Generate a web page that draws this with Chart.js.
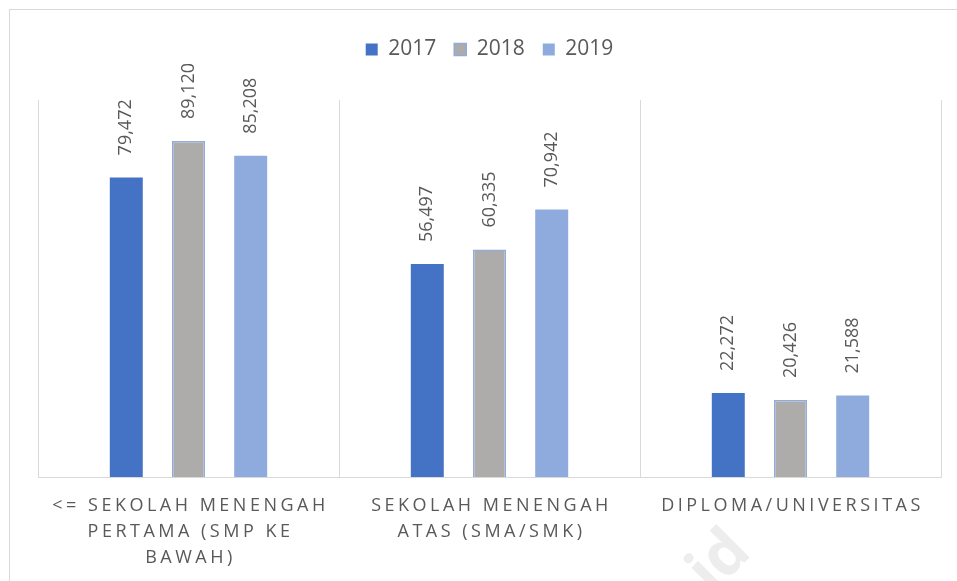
<!DOCTYPE html>
<html>
<head>
<meta charset="utf-8">
<script src="https://cdn.jsdelivr.net/npm/chart.js@4.4.1/dist/chart.umd.min.js"></script>
<style>
  html, body { margin: 0; padding: 0; background: #fff; }
  canvas { display: block; }
</style>
</head>
<body>
<canvas id="myChart" width="957" height="581"></canvas>
<script>
var categories = [
    ['<= SEKOLAH MENENGAH', 'PERTAMA (SMP KE', 'BAWAH)'],
    ['SEKOLAH MENENGAH', 'ATAS (SMA/SMK)'],
    ['DIPLOMA/UNIVERSITAS']
];
var years = ['2017', '2018', '2019'];
var values2017 = [79472, 56497, 22272];
var values2018 = [89120, 60335, 20426];
var values2019 = [85208, 70942, 21588];

var textColor = '#595959';
var lineColor = '#d9d9d9';

// frame, watermark, rotated value labels and spaced category labels
var decor = {
    id: 'decor',
    beforeInit: function (chart) {
        var fit = chart.legend.fit;
        chart.legend.fit = function () {
            fit.bind(chart.legend)();
            this.height += 30;
        };
    },
    beforeDraw: function (chart) {
        var c = chart.ctx;
        c.save();
        c.fillStyle = '#fff';
        c.fillRect(0, 0, chart.width, chart.height);
        c.strokeStyle = lineColor;
        c.lineWidth = 1;
        c.strokeRect(9.5, 9.5, chart.width, chart.height);
        c.restore();
    },
    afterDatasetsDraw: function (chart) {
        var c = chart.ctx;
        c.save();
        c.font = '18px "Open Sans"';
        c.fillStyle = textColor;
        c.textAlign = 'left';
        c.textBaseline = 'middle';
        chart.data.datasets.forEach(function (ds, i) {
            chart.getDatasetMeta(i).data.forEach(function (bar, j) {
                c.save();
                c.translate(bar.x, bar.y - 22);
                c.rotate(-Math.PI / 2);
                c.fillText(ds.data[j].toLocaleString('en-US'), 0, 0);
                c.restore();
            });
        });
        c.restore();
    },
    afterDraw: function (chart) {
        var c = chart.ctx;
        var xs = chart.scales.x;
        c.save();
        c.font = '18px "Open Sans"';
        c.fillStyle = textColor;
        c.textAlign = 'center';
        c.textBaseline = 'middle';
        c.letterSpacing = '3.5px';
        categories.forEach(function (lines, i) {
            var x = xs.getPixelForValue(i) + 2;
            lines.forEach(function (t, k) {
                c.fillText(t, x, 506 + k * 26);
            });
        });
        c.restore();

        c.save();
        c.translate(720, 562);
        c.rotate(-Math.PI / 4);
        c.font = 'bold 62px "Open Sans"';
        c.fillStyle = '#ededed';
        c.textAlign = 'center';
        c.textBaseline = 'middle';
        c.fillText('id', 0, 0);
        c.restore();
    }
};

var ctx = document.getElementById('myChart').getContext('2d');
var myChart = new Chart(ctx, {
    type: 'bar',
    data: {
        labels: categories,
        datasets: [{
            label: years[0],
            data: values2017,
            backgroundColor: '#4472C4',
            borderWidth: 0
        }, {
            label: years[1],
            data: values2018,
            backgroundColor: '#AEABAB',
            borderColor: '#8FAADC',
            borderWidth: 1.5
        }, {
            label: years[2],
            data: values2019,
            backgroundColor: '#8FAADC',
            borderWidth: 0
        }]
    },
    options: {
        responsive: false,
        animation: false,
        devicePixelRatio: 1,
        categoryPercentage: 0.62,
        barPercentage: 0.53,
        layout: {
            padding: { top: 21, left: 38, right: 16, bottom: 104 }
        },
        plugins: {
            legend: {
                position: 'top',
                labels: {
                    boxWidth: 12,
                    boxHeight: 12,
                    padding: 18,
                    color: textColor,
                    font: { family: 'Open Sans', size: 21 }
                }
            },
            tooltip: { enabled: false }
        },
        scales: {
            x: {
                grid: {
                    color: lineColor,
                    lineWidth: 1,
                    offset: true,
                    drawTicks: false
                },
                border: { color: lineColor, width: 1 },
                ticks: { display: false }
            },
            y: {
                display: false,
                min: 0,
                max: 100000
            }
        }
    },
    plugins: [decor]
});
</script>
</body>
</html>
